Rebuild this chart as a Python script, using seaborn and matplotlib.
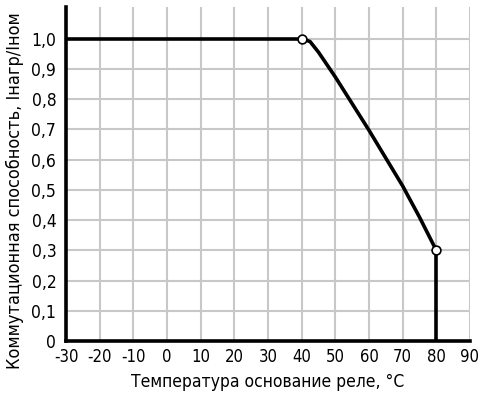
import matplotlib
matplotlib.use("Agg")
import matplotlib.pyplot as plt
import seaborn as sns
import pandas as pd

# Data
flat_t = [-30, 40]
flat_k = [1.0, 1.0]
curve_t = [40, 42.5, 45, 50, 55, 60, 65, 70, 75, 80]
curve_k = [1.0, 0.99, 0.955, 0.873, 0.785, 0.697, 0.605, 0.513, 0.41, 0.3]
drop_t = [80, 80]
drop_k = [0.3, 0.0]
marker_t = [40, 80]
marker_k = [1.0, 0.3]

x_ticks = list(range(-30, 91, 10))
y_ticks = [i / 10 for i in range(0, 11)]
y_labels = ["0"] + [f"{v:.1f}".replace(".", ",") for v in y_ticks[1:]]

sns.set_theme(style="white")
plt.rcParams["font.family"] = ["DejaVu Sans"]
plt.rcParams["font.stretch"] = "condensed"

fig = plt.figure(figsize=(4.82, 3.99), dpi=100)
ax = fig.add_axes([0.137, 0.145, 0.838, 0.838])

line_df = pd.DataFrame({
    "t": flat_t + curve_t + drop_t,
    "k": flat_k + curve_k + drop_k,
    "seg": ["flat"] * len(flat_t) + ["curve"] * len(curve_t) + ["drop"] * len(drop_t),
})
for seg, part in line_df.groupby("seg", sort=False):
    sns.lineplot(data=part, x="t", y="k", ax=ax, color="black", linewidth=2.6,
                 sort=False, estimator=None)

sns.scatterplot(x=marker_t, y=marker_k, ax=ax, s=40, color="white",
                edgecolor="black", linewidth=1.2, zorder=5)

ax.set_xlim(-30, 90)
ax.set_ylim(0, 1.105)
ax.set_xticks(x_ticks)
ax.set_xticklabels([str(v) for v in x_ticks])
ax.set_yticks(y_ticks)
ax.set_yticklabels(y_labels)
ax.grid(True, color="#c8c8c8", linewidth=1.5)
ax.set_axisbelow(True)
for s in ["top", "right"]:
    ax.spines[s].set_visible(False)
for s in ["left", "bottom"]:
    ax.spines[s].set_color("black")
    ax.spines[s].set_linewidth(2.6)
ax.tick_params(axis="x", length=0, labelsize=12, colors="black", pad=5)
ax.tick_params(axis="y", length=0, labelsize=12.5, colors="black", pad=7)
ax.set_xlabel("Температура основание реле, °C", fontsize=12.5, color="black", labelpad=5)
ax.set_ylabel("Коммутационная способность, Iнагр/Iном", fontsize=13, color="black")
ax.yaxis.set_label_coords(-0.105, 0.45)

fig.savefig("out.png", dpi=100)
